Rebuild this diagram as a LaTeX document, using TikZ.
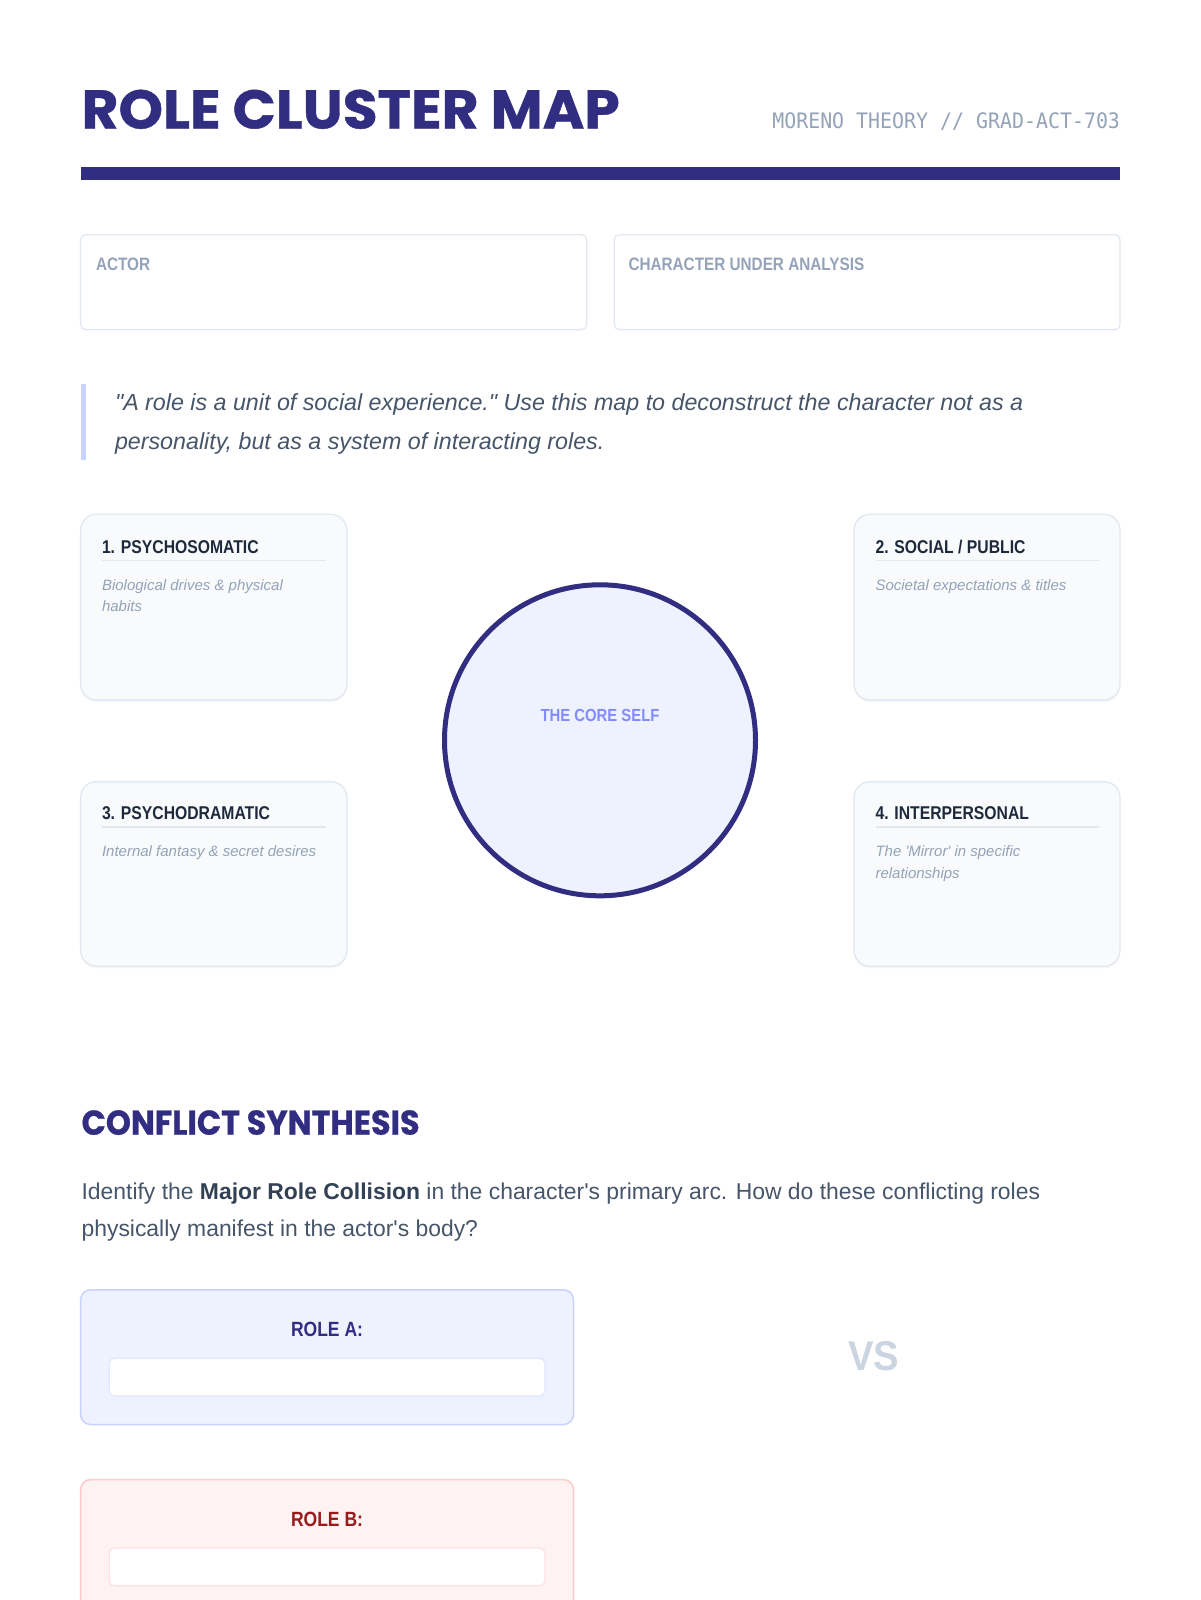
\documentclass[tikz,border=0pt]{standalone}
\usepackage{fontspec}
\setmainfont{Liberation Sans}[Ligatures=TeXOff]
\newfontfamily\headfont{Poppins}[BoldFeatures={FakeBold=0.8}]
\newfontfamily\condfont{Liberation Sans}[FakeStretch=0.85, Ligatures=TeXOff]
\newfontfamily\monofnt{DejaVu Sans Mono}
\usetikzlibrary{shadows}
\definecolor{indigoD}{HTML}{312E81}
\definecolor{indigoL}{HTML}{EEF2FF}
\definecolor{indigoM}{HTML}{C7D2FE}
\definecolor{indigoF}{HTML}{E0E7FF}
\definecolor{indigoT}{HTML}{818CF8}
\definecolor{slateA}{HTML}{94A3B8}
\definecolor{slateB}{HTML}{E2E8F0}
\definecolor{slateL}{HTML}{F8FAFC}
\definecolor{slateDark}{HTML}{1E293B}
\definecolor{slateText}{HTML}{475569}
\definecolor{slateBold}{HTML}{334155}
\definecolor{slateC}{HTML}{CBD5E1}
\definecolor{redL}{HTML}{FEF2F2}
\definecolor{redM}{HTML}{FECACA}
\definecolor{redF}{HTML}{FEE2E2}
\definecolor{redD}{HTML}{991B1B}
\begin{document}
\begin{tikzpicture}[x=1pt,y=-1pt,
  txt/.style={inner sep=0pt, outer sep=0pt},
  fieldlabel/.style={txt, anchor=base west, text=slateA, font=\condfont\bfseries\fontsize{18}{20}\selectfont},
  infobox/.style={draw=slateB, line width=1.3pt, fill=white, rounded corners=5pt},
  card/.style={draw=slateB, line width=1.3pt, fill=slateL, rounded corners=16pt,
    drop shadow={opacity=0.07, shadow xshift=0pt, shadow yshift=-2pt}},
  cardtitle/.style={txt, anchor=base west, text=slateDark, font=\condfont\bfseries\fontsize{18.5}{20}\selectfont},
  carddesc/.style={txt, anchor=base west, text=slateA, font=\itshape\fontsize{15}{18}\selectfont},
  rule/.style={draw=slateB, line width=1.2pt},
  quotetext/.style={txt, anchor=base west, text=slateText, font=\itshape\fontsize{23.25}{26}\selectfont},
  bodytext/.style={txt, anchor=base west, text=slateText, font=\fontsize{22.9}{25}\selectfont},
  rolelabel/.style={txt, anchor=base, font=\condfont\bfseries\fontsize{20.6}{22}\selectfont},
  inputbox/.style={line width=1.3pt, fill=white, rounded corners=5pt}
]
\useasboundingbox (0,0) rectangle (1200,1600);
\clip (0,0) rectangle (1200,1600);
\fill[white] (0,0) rectangle (1200,1600);

% Header
\node[txt, anchor=base west, text=indigoD] (title) at (81.6,128.5)
  {\resizebox{538pt}{38.8pt}{\headfont\bfseries ROLE CLUSTER MAP}};
\node[txt, anchor=base east, text=slateA] (subtitle) at (1120,128.5)
  {\scalebox{0.935}[1]{\monofnt\fontsize{21.3}{24}\selectfont MORENO THEORY // GRAD-ACT-703}};
\fill[indigoD] (81,167.3) rectangle (1120,179.6);

% Info boxes
\path[infobox] (80.6,234.7) rectangle (586.7,329.6);
\path[infobox] (614.3,234.7) rectangle (1120,329.6);
\node[fieldlabel] (actor) at (96,270.5) {ACTOR};
\node[fieldlabel] (character) at (628.5,270.5) {CHARACTER UNDER ANALYSIS};

% Quote
\fill[indigoM] (80.6,383.7) rectangle (85.7,460.2);
\node[quotetext] (quote1) at (115,410) {"A role is a unit of social experience." Use this map to deconstruct the character not as a};
\node[quotetext] (quote2) at (115,449) {personality, but as a system of interacting roles.};

% Cards
\path[card] (80.6,514.3) rectangle (346.9,700);
\path[card] (854,514.3) rectangle (1120,700);
\path[card] (80.6,781.6) rectangle (346.9,966.3);
\path[card] (854,781.6) rectangle (1120,966.3);

\node[cardtitle] (c1t) at (102,553.5) {1. PSYCHOSOMATIC};
\draw[rule] (102,560.5) -- (325.5,560.5);
\node[carddesc] (c1d1) at (102,590) {Biological drives \& physical};
\node[carddesc] (c1d2) at (102,611.5) {habits};

\node[cardtitle] (c2t) at (875.5,553.5) {2. SOCIAL / PUBLIC};
\draw[rule] (875.5,560.5) -- (1099,560.5);
\node[carddesc] (c2d1) at (875.5,590) {Societal expectations \& titles};

\node[cardtitle] (c3t) at (102,819.8) {3. PSYCHODRAMATIC};
\draw[rule] (102,827) -- (325.5,827);
\node[carddesc] (c3d1) at (102,856.4) {Internal fantasy \& secret desires};

\node[cardtitle] (c4t) at (875.5,819.8) {4. INTERPERSONAL};
\draw[rule] (875.5,827) -- (1099,827);
\node[carddesc] (c4d1) at (875.5,856.4) {The 'Mirror' in specific};
\node[carddesc] (c4d2) at (875.5,878) {relationships};

% Core circle
\node[circle, minimum size=311pt, inner sep=0pt, draw=indigoD, line width=5pt, fill=indigoL] (core) at (600,740.3) {};
\node[txt, anchor=base, text=indigoT, font=\condfont\bfseries\fontsize{17.5}{20}\selectfont] (coretext) at (600,721.5) {THE CORE SELF};

% Conflict synthesis
\node[txt, anchor=base west, text=indigoD] (conflict) at (81.6,1134.7)
  {\resizebox{338pt}{24.5pt}{\headfont\bfseries CONFLICT SYNTHESIS}};
\node[bodytext] (para1) at (81.6,1199.3) {Identify the {\color{slateBold}\bfseries Major Role Collision} in the character's primary arc. How do these conflicting roles};
\node[bodytext] (para2) at (81.6,1236) {physically manifest in the actor's body?};

% Role A
\path[draw=indigoM, line width=1.5pt, fill=indigoL, rounded corners=10pt] (80.6,1289.8) rectangle (573.5,1424.5);
\node[rolelabel, text=indigoD] (roleA) at (327,1336.4) {ROLE A:};
\path[inputbox, draw=indigoF] (109.2,1358.2) rectangle (544.9,1395.9);

% VS
\node[txt, text=slateC] (vs) at (873.5,1356.1) {\resizebox{51pt}{29pt}{\condfont\bfseries VS}};

% Role B
\path[draw=redM, line width=1.5pt, fill=redL, rounded corners=10pt] (80.6,1479.6) rectangle (573.5,1640);
\node[rolelabel, text=redD] (roleB) at (327,1526.2) {ROLE B:};
\path[inputbox, draw=redF] (109.2,1548) rectangle (544.9,1585.7);
\end{tikzpicture}
\end{document}
